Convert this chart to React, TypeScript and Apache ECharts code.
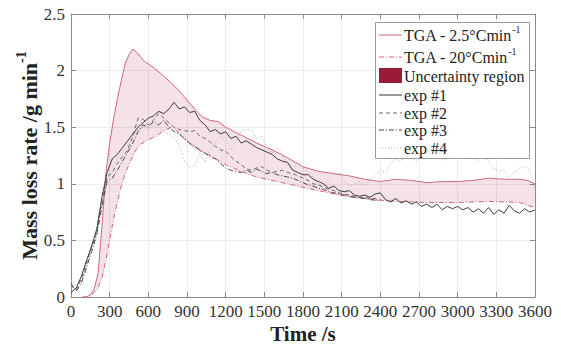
import React, { useEffect, useRef } from "react";
import * as echarts from "echarts";

const FONT = "Liberation Serif";

// TGA curves (time in s, mass loss rate in g/min)
const tgaTime = [
  90, 120, 150, 180, 210, 240, 270, 300, 330, 360, 390, 420, 450, 480, 510, 540, 570, 600,
  660, 720, 780, 840, 900, 960, 1020, 1080, 1140, 1200,
  1320, 1440, 1560, 1680, 1800, 1920, 2040, 2160, 2280, 2400, 2520, 2640, 2760, 2880, 3000, 3120, 3240, 3360, 3480,
  3540, 3600,
];
const tgaUpper = [
  0, 0.0, 0.02, 0.07, 0.21, 0.62, 1.09, 1.36, 1.57, 1.75, 1.91, 2.06, 2.14, 2.19, 2.16, 2.12, 2.08, 2.06,
  2.01, 1.95, 1.89, 1.82, 1.74, 1.66, 1.59, 1.56, 1.55, 1.5,
  1.43, 1.36, 1.3, 1.23, 1.15, 1.11, 1.09, 1.07, 1.04, 1.02, 1.04, 1.03, 1.01, 1.02, 1.02, 1.03, 1.05, 1.04, 1.04,
  1.03, 1.0,
];
const tgaLower = [
  0, 0, 0.01, 0.04, 0.08, 0.17, 0.32, 0.5, 0.69, 0.84, 0.98, 1.09, 1.17, 1.25, 1.31, 1.35, 1.37, 1.39,
  1.42, 1.47, 1.5, 1.45, 1.37, 1.32, 1.28, 1.25, 1.21, 1.17,
  1.11, 1.06, 1.03, 1.0, 0.97, 0.94, 0.91, 0.885, 0.87, 0.855, 0.845, 0.84, 0.835, 0.835, 0.835, 0.84, 0.845, 0.84, 0.835,
  0.81, 0.79,
];

// Experiments
const expTime = [
  0, 40, 80, 120, 160, 200, 240, 280, 320, 360,
  400, 440, 480, 520, 560, 600, 640, 680, 720, 760,
  800, 840, 880, 920, 960, 1000, 1040, 1080, 1120, 1160,
  1200, 1240, 1280, 1320, 1360, 1400, 1440, 1480, 1520, 1560,
  1600, 1640, 1680, 1720, 1760, 1800, 1840, 1880, 1920, 1960,
  2000, 2040, 2080, 2120, 2160, 2200, 2240, 2280, 2320, 2360,
  2400, 2440, 2480, 2520, 2560, 2600, 2640, 2680, 2720, 2760,
  2800, 2840, 2880, 2920, 2960, 3000, 3040, 3080, 3120, 3160,
  3200, 3240, 3280, 3320, 3360, 3400, 3440, 3480, 3520, 3560, 3600,
];
const exp1 = [
  0.04, 0.08, 0.18, 0.32, 0.45, 0.6, 0.88, 1.1, 1.22, 1.26,
  1.32, 1.38, 1.44, 1.5, 1.54, 1.58, 1.6, 1.64, 1.62, 1.66,
  1.72, 1.66, 1.68, 1.63, 1.64, 1.56, 1.52, 1.46, 1.48, 1.44,
  1.46, 1.4, 1.42, 1.36, 1.38, 1.35, 1.32, 1.3, 1.28, 1.26,
  1.22, 1.2, 1.19, 1.12, 1.1, 1.08, 1.08, 1.04, 1.02, 1.0,
  0.96, 0.98, 0.94, 0.93, 0.94, 0.9, 0.89, 0.9, 0.88, 0.91,
  0.92, 0.86, 0.84, 0.87, 0.83, 0.85, 0.82, 0.84, 0.8, 0.82,
  0.79, 0.82, 0.77, 0.8, 0.78, 0.8, 0.77, 0.79, 0.75, 0.78,
  0.74, 0.79, 0.73, 0.77, 0.74, 0.81, 0.76, 0.74, 0.78, 0.75, 0.77,
];
const exp2 = [
  0.1, 0.06, 0.16, 0.3, 0.44, 0.58, 0.85, 1.06, 1.1, 1.18,
  1.24, 1.3, 1.42, 1.58, 1.57, 1.52, 1.56, 1.62, 1.58, 1.54,
  1.5, 1.48, 1.47, 1.46, 1.47, 1.42, 1.4, 1.37, 1.33, 1.3,
  1.29, 1.24, 1.2, 1.17, 1.13, 1.12, 1.14, 1.15, 1.12, 1.1,
  1.11, 1.12, 1.1, 1.09, 1.07, 1.05, 1.03, 1.0, 0.99, 0.97,
  0.95, 0.94, 0.92, 0.91, 0.9, 0.89, 0.88, 0.88, 0.87, 0.87, 0.86,
];
const exp3 = [
  0.12, 0.05, 0.12, 0.26, 0.4, 0.55, 0.8, 1.02, 1.05, 1.12,
  1.2, 1.28, 1.36, 1.46, 1.52, 1.5, 1.55, 1.52, 1.56, 1.5,
  1.46, 1.44, 1.4, 1.36, 1.33, 1.3, 1.27, 1.24, 1.22, 1.18,
  1.14, 1.12, 1.11, 1.1, 1.12, 1.1, 1.13, 1.11, 1.09, 1.1,
  1.08, 1.07, 1.06, 1.05, 1.03, 1.01, 0.99, 0.98, 0.96, 0.95,
  0.93, 0.92, 0.91, 0.9, 0.89, 0.88, 0.875, 0.87, 0.86, 0.855, 0.85,
];
const exp4 = [
  0.15, 0.1, 0.14, 0.28, 0.42, 0.56, 0.82, 1.05, 1.14, 1.22,
  1.28, 1.34, 1.4, 1.48, 1.5, 1.48, 1.52, 1.5, 1.46, 1.44,
  1.4, 1.34, 1.2, 1.15, 1.16, 1.27, 1.19, 1.3, 1.36, 1.42,
  1.38, 1.3, 1.38, 1.46, 1.48, 1.47, 1.4, 1.42, 1.32, 1.27,
  1.32, 1.26, 1.16, 1.12, 1.2, 1.14, 1.1, 1.06, 1.0, 0.97,
  1.04, 1.08, 1.1, 1.02, 0.98, 1.0, 1.02, 0.98, 1.04, 1.08,
  1.12, 1.1, 1.18, 1.22, 1.2, 1.27, 1.22, 1.2, 1.26, 1.24,
  1.28, 1.22, 1.25, 1.21, 1.24, 1.26, 1.22, 1.29, 1.28, 1.2,
  1.25, 1.2, 1.14, 1.1, 1.13, 1.06, 1.1, 1.14, 1.15, 1.12, 0.95,
];

const xTicks = { min: 0, max: 3600, interval: 300 };
const yTicks = { min: 0, max: 2.5, interval: 0.5 };

const legendLabels = [
  "{a|TGA - 2.5°Cmin}{s|-1}",
  "{a|TGA - 20°Cmin}{s|-1}",
  "Uncertainty region",
  "exp #1",
  "exp #2",
  "exp #3",
  "exp #4",
];

const PINK = "#d0667c";
const BAND = "rgba(175, 30, 65, 0.13)";
const SWATCH = "#9b1b36";
const AXIS = "#8c8c8c";
const LABEL = "#333333";

const pairs = (t: number[], v: number[]) => v.map((y, i) => [t[i], y]);

export default function App() {
  const ref = useRef<HTMLDivElement>(null);
  useEffect(() => {
    const chart = echarts.init(ref.current!, null, { renderer: "svg" });

    const axisCommon = {
      type: "value" as const,
      axisLine: { show: true, onZero: false, lineStyle: { color: AXIS, width: 1 } },
      axisTick: { show: true, inside: true, length: 5, lineStyle: { color: AXIS } },
    };
    const tickLabel = {
      fontFamily: FONT,
      fontSize: 17,
      fontWeight: "normal",
      color: LABEL,
      margin: 6,
      formatter: (v: number) => String(v),
    };

    const rowY = [35, 57, 76, 95, 113, 130, 148];
    const lx0 = 379;
    const lx1 = 402;
    const sampleStyles: any[] = [
      { stroke: PINK, lineWidth: 1 },
      { stroke: PINK, lineWidth: 1, lineDash: [5, 2, 1, 2] },
      null,
      { stroke: "#333", lineWidth: 1 },
      { stroke: "#666", lineWidth: 1, lineDash: [4, 3] },
      { stroke: "#444", lineWidth: 1, lineDash: [5, 2, 1, 2] },
      { stroke: "#b5b5b5", lineWidth: 1, lineDash: [1, 2] },
    ];
    const legendEls: any[] = [
      {
        type: "rect",
        z: 100,
        shape: { x: 375.5, y: 22.5, width: 154, height: 136 },
        style: { fill: "#fff", stroke: "#9a9a9a", lineWidth: 1 },
      },
    ];
    legendLabels.forEach((lab, i) => {
      const y = rowY[i];
      if (sampleStyles[i]) {
        legendEls.push({
          type: "line",
          z: 101,
          shape: { x1: lx0, y1: y, x2: lx1, y2: y },
          style: sampleStyles[i],
        });
      } else {
        legendEls.push({
          type: "rect",
          z: 101,
          shape: { x: lx0, y: y - 8, width: 23, height: 15 },
          style: { fill: SWATCH },
        });
      }
      legendEls.push({
        type: "text",
        z: 101,
        x: 404,
        y: y,
        style: {
          text: lab,
          fontFamily: FONT,
          fontSize: 16,
          fill: "#222",
          textAlign: "left",
          textVerticalAlign: "middle",
          rich: {
            a: { fontFamily: FONT, fontSize: 16, fill: "#222", color: "#222", lineHeight: 22 },
            s: { fontFamily: FONT, fontSize: 10, fill: "#222", color: "#222", lineHeight: 12, verticalAlign: "top" },
          },
        },
      });
    });

    const option: any = {
      animation: false,
      backgroundColor: "#fff",
      textStyle: { fontFamily: FONT },
      grid: { left: 71, right: 26, top: 14, bottom: 52, containLabel: false },
      xAxis: [
        {
          ...axisCommon,
          position: "bottom",
          ...xTicks,
          axisLabel: tickLabel,
          splitLine: { show: true, lineStyle: { color: "#ebebeb", width: 1 } },
          name: "Time /s",
          nameLocation: "middle",
          nameGap: 26,
          nameMoveOverlap: false,
          nameTextStyle: { fontFamily: FONT, fontSize: 21, fontWeight: "bold", color: "#222" },
        },
        {
          ...axisCommon,
          position: "top",
          ...xTicks,
          axisLabel: { show: false },
          splitLine: { show: false },
        },
      ],
      yAxis: [
        {
          ...axisCommon,
          position: "left",
          ...yTicks,
          axisLabel: tickLabel,
          splitLine: { show: true, lineStyle: { color: "#ebebeb", width: 1 } },
          name: "{a|Mass loss rate /g min}{s|-1}",
          nameLocation: "middle",
          nameGap: 27,
          nameMoveOverlap: false,
          nameTextStyle: {
            fontFamily: FONT,
            rich: {
              a: { fontFamily: FONT, fontSize: 22, fontWeight: "bold", color: "#222", lineHeight: 30 },
              s: { fontFamily: FONT, fontSize: 14, fontWeight: "bold", color: "#222", lineHeight: 15, verticalAlign: "top" },
            },
          },
        },
        {
          ...axisCommon,
          position: "right",
          ...yTicks,
          axisLabel: { show: false },
          splitLine: { show: false },
        },
      ],
      graphic: legendEls,
      series: [
        {
          name: "Uncertainty region",
          type: "custom",
          silent: true,
          z: 1,
          data: tgaTime.map((t, i) => [t, tgaUpper[i], tgaLower[i]]),
          encode: { x: 0, y: [1, 2] },
          renderItem: (params: any, api: any) => {
            if (params.dataIndex !== 0) return null;
            const pts: number[][] = [];
            for (let i = 0; i < tgaTime.length; i++) pts.push(api.coord([tgaTime[i], tgaUpper[i]]));
            for (let i = tgaTime.length - 1; i >= 0; i--) pts.push(api.coord([tgaTime[i], tgaLower[i]]));
            return {
              type: "polygon",
              shape: { points: pts },
              style: { fill: BAND, stroke: "none" },
            };
          },
        },
        {
          name: "TGA - 2.5°Cmin-1",
          type: "line",
          symbol: "none",
          lineStyle: { color: PINK, width: 1 },
          data: pairs(tgaTime, tgaUpper),
          z: 3,
        },
        {
          name: "TGA - 20°Cmin-1",
          type: "line",
          symbol: "none",
          lineStyle: { color: PINK, width: 1, type: [5, 2, 1, 2] },
          data: pairs(tgaTime, tgaLower),
          z: 3,
        },
        {
          name: "exp #4",
          type: "line",
          symbol: "none",
          lineStyle: { color: "#b0b0b0", width: 1, type: [1, 2] },
          data: pairs(expTime, exp4),
          z: 4,
        },
        {
          name: "exp #3",
          type: "line",
          symbol: "none",
          lineStyle: { color: "#444", width: 1, type: [5, 2, 1, 2] },
          data: pairs(expTime, exp3),
          z: 4,
        },
        {
          name: "exp #2",
          type: "line",
          symbol: "none",
          lineStyle: { color: "#666", width: 1, type: [4, 3] },
          data: pairs(expTime, exp2),
          z: 4,
        },
        {
          name: "exp #1",
          type: "line",
          symbol: "none",
          lineStyle: { color: "#3a3a3a", width: 1 },
          data: pairs(expTime, exp1),
          z: 5,
        },
      ],
    };
    chart.setOption(option);
    return () => chart.dispose();
  }, []);
  return (
    <div
      ref={ref}
      style={{ position: "fixed", left: 0, top: 0, width: 561, height: 349, background: "#fff" }}
    />
  );
}
